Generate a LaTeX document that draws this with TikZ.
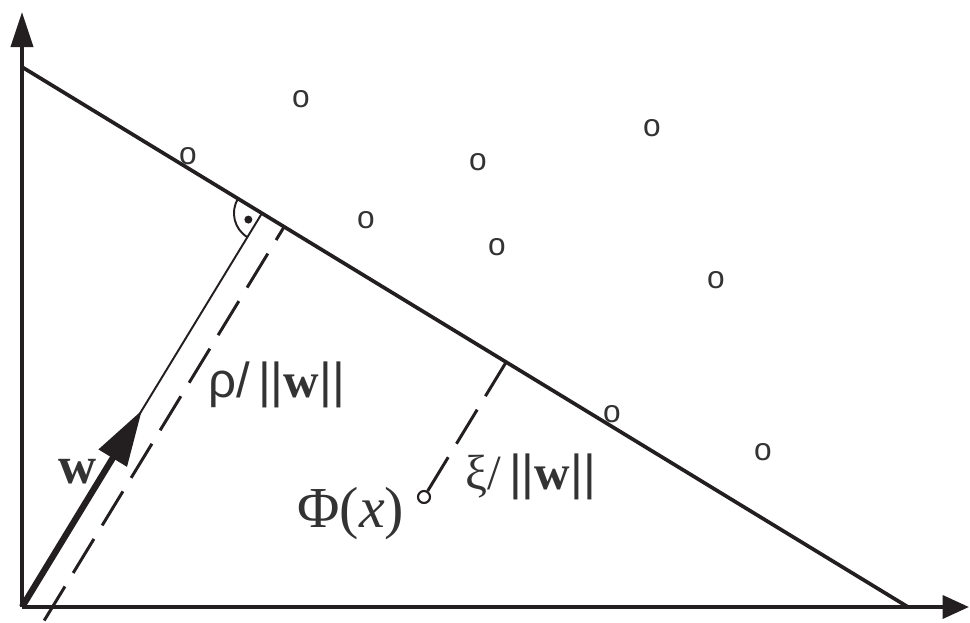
\documentclass[tikz,border=0pt]{standalone}
\usepackage{fontspec}
\setmainfont{Liberation Serif}
\newfontfamily\sansf{Liberation Sans}
\usetikzlibrary{calc, arrows.meta}
\definecolor{lineink}{HTML}{231F20}
\definecolor{textink}{HTML}{333333}
\tikzset{
  axis/.style={line width=2.3pt, lineink},
  plane/.style={line width=2.1pt, lineink},
  thinline/.style={line width=1.1pt, lineink},
  dashline/.style={line width=1.7pt, lineink, dash pattern=on 22.7pt off 9pt},
  pt/.style={inner sep=0pt, font=\sansf\fontsize{18}{18}\selectfont, textink},
  lbl/.style={inner sep=0pt, anchor=base west, font=\fontsize{28}{28}\selectfont, textink},
}

\begin{document}
\begin{tikzpicture}[x=0.02cm, y=-0.02cm]
    \useasboundingbox (0,0) rectangle (970,622);
    % axes and separating plane
    \coordinate (O) at (22,607);
    \coordinate (ytip) at (22,12);
    \coordinate (xtip) at (969,607);
    \coordinate (A) at (22,67);
    \coordinate (B) at (908,607);
    \draw[plane] (A) -- (B);
    \draw[axis, -{Triangle[length=20pt, width=12.5pt]}] (O) -- (ytip);
    \draw[axis, -{Triangle[length=15pt, width=13pt]}] (O) -- (xtip);
    % normal vector w and margin rho
    \coordinate (F) at ($(A)!(O)!(B)$);
    \coordinate (F2) at ($(F)!0.52cm!(B)$);
    \coordinate (O2) at ($(O)+(F2)-(F)$);
    \coordinate (wtip) at ($(O)!0.5!(F)$);
    \draw[thinline] (O) -- (F);
    \draw[dashline] (O2) -- (F2);
    \draw[line width=3.6pt, lineink, -{Triangle[length=32pt, width=18pt]}] (O) -- (wtip);
    \draw[thinline] (F) ++(148.65:0.56cm) arc[start angle=148.65, end angle=238.65, radius=0.56cm];
    \fill[lineink] (F) ++(205:0.3cm) circle[radius=0.08cm];
    % training points
    \foreach \px/\py [count=\i] in {301/99, 188/156, 478/162, 652/128, 366/220, 497/247, 716/280, 612/414, 763/452}
        \node[pt] (o\i) at (\px,\py) {o};
    % slack of Phi(x)
    \node[circle, draw=lineink, line width=1.2pt, inner sep=0pt, minimum size=0.24cm] (phi) at (424,497) {};
    \coordinate (Pf) at ($(A)!(phi)!(B)$);
    \draw[dashline] (Pf) -- (phi);
    % labels
    \node[lbl] (rholbl) at (208,397) {{\sansf ρ/\,||}\textbf{w}{\sansf ||}};
    \node[lbl] (xilbl) at (465,489) {ξ/\,{\sansf ||}\textbf{w}{\sansf ||}};
    \node[lbl, font=\fontsize{33}{33}\selectfont] (philbl) at (297,527) {Φ(\textit{x})};
    \node[lbl, font=\bfseries\fontsize{30}{30}\selectfont] (wlbl) at (58,483) {w};
\end{tikzpicture}
\end{document}
